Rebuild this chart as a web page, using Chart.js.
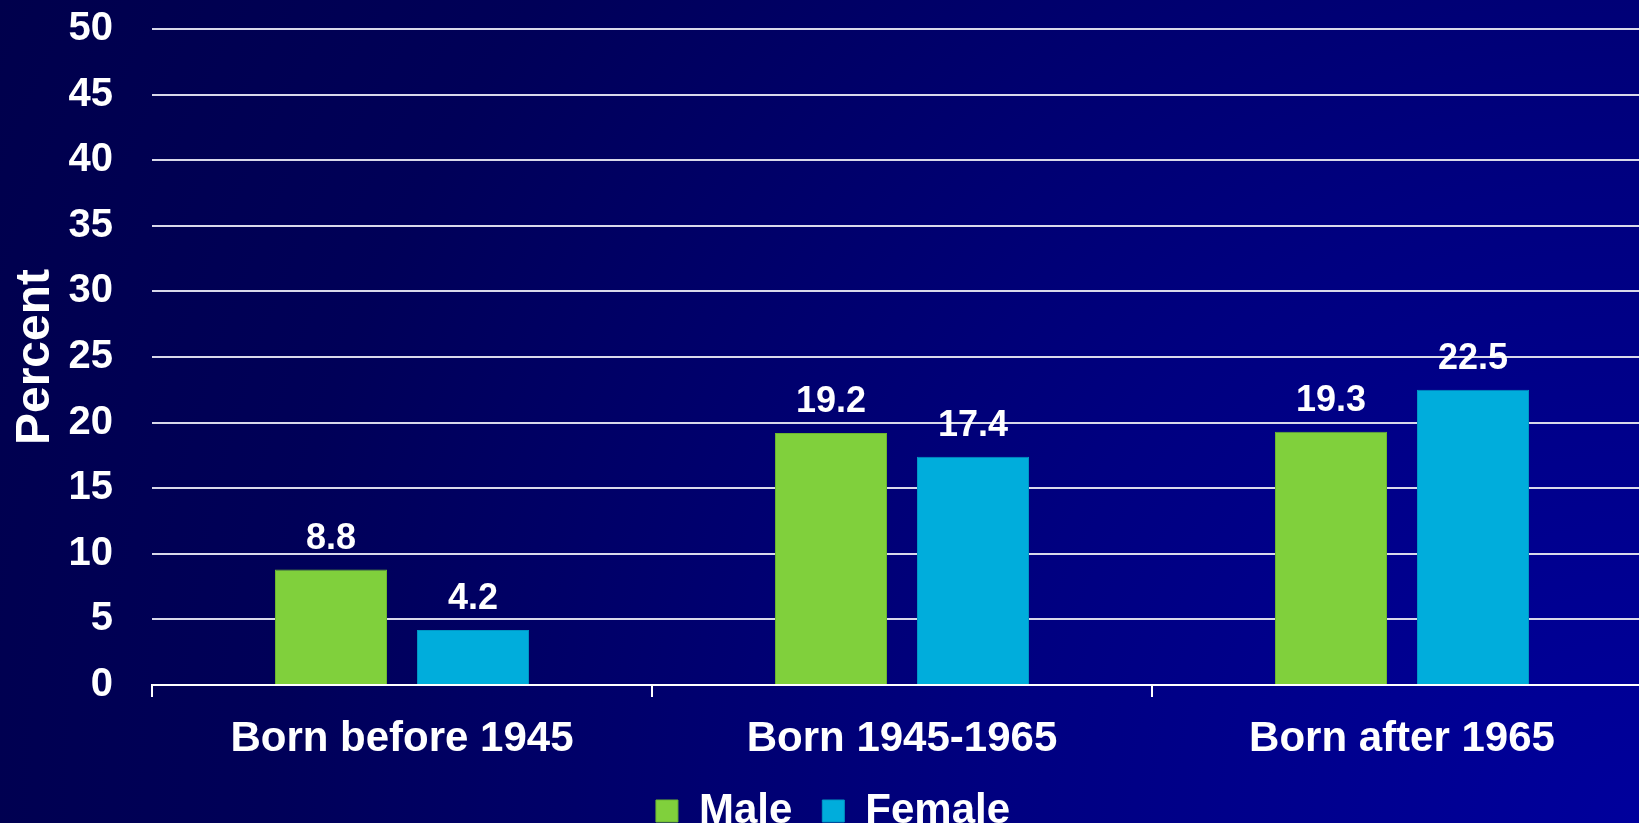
<!DOCTYPE html>
<html>
<head>
<meta charset="utf-8">
<script src="https://cdn.jsdelivr.net/npm/chart.js@4"></script>
<style>
  html, body {
    margin: 0;
    padding: 0;
    width: 1639px;
    height: 823px;
    overflow: hidden;
    background: radial-gradient(circle at 100% 100%, #00009c 0%, #000080 35%, #000058 75%, #00004c 100%);
  }
  #wrap {
    position: absolute;
    left: 0;
    top: 0;
    width: 1660px;
    height: 842px;
  }
</style>
</head>
<body>
<div id="wrap"><canvas id="chart"></canvas></div>
<script>
(function() {
    'use strict';

    // Chart data
    const categories = ['Born before 1945', 'Born 1945-1965', 'Born after 1965'];
    const maleValues = [8.8, 19.2, 19.3];
    const femaleValues = [4.2, 17.4, 22.5];
    const yTicks = [0, 5, 10, 15, 20, 25, 30, 35, 40, 45, 50];

    const FONT = '"Liberation Sans", Arial, sans-serif';

    // Value labels above bars
    const valueLabels = {
        id: 'valueLabels',
        afterDatasetsDraw(chart) {
            const ctx = chart.ctx;
            ctx.save();
            ctx.font = 'bold 36px ' + FONT;
            ctx.fillStyle = '#ffffff';
            ctx.textAlign = 'center';
            ctx.textBaseline = 'alphabetic';
            chart.data.datasets.forEach((ds, i) => {
                chart.getDatasetMeta(i).data.forEach((bar, j) => {
                    ctx.fillText(ds.data[j].toFixed(1), bar.x, bar.y - 21);
                });
            });
            ctx.restore();
        }
    };

    // nudge the legend a little to the right
    const legendShift = {
        id: 'legendShift',
        afterLayout(chart) {
            if (chart.legend) {
                chart.legend.left += 7;
                chart.legend.right += 7;
            }
        }
    };

    new Chart(document.getElementById('chart'), {
        type: 'bar',
        data: {
            labels: categories,
            datasets: [{
                label: 'Male',
                data: maleValues,
                backgroundColor: '#80d03c',
                borderColor: '#6cb530',
                borderWidth: 1,
                categoryPercentage: 0.568,
                barPercentage: 0.789
            }, {
                label: 'Female',
                data: femaleValues,
                backgroundColor: '#00addc',
                borderColor: '#0096c4',
                borderWidth: 1,
                categoryPercentage: 0.568,
                barPercentage: 0.789
            }]
        },
        options: {
            responsive: true,
            maintainAspectRatio: false,
            animation: false,
            layout: { padding: { top: 0, right: 8, left: 0, bottom: 0 } },
            scales: {
                x: {
                    grid: {
                        display: true,
                        drawOnChartArea: false,
                        drawTicks: true,
                        tickLength: 12,
                        color: '#ffffff',
                        lineWidth: 2,
                        offset: true
                    },
                    border: { display: true, color: '#ffffff', width: 2 },
                    ticks: {
                        color: '#ffffff',
                        padding: 17,
                        font: { family: FONT, size: 42, weight: 'bold' }
                    },
                    afterFit(scale) { scale.height = 75; }
                },
                y: {
                    min: 0,
                    max: 50,
                    afterBuildTicks(scale) {
                        scale.ticks = yTicks.map(v => ({ value: v }));
                    },
                    grid: {
                        color: '#d8d8ea',
                        lineWidth: 2,
                        drawTicks: false
                    },
                    border: { display: false },
                    ticks: {
                        color: '#ffffff',
                        padding: 39,
                        font: { family: FONT, size: 40, weight: 'bold' }
                    },
                    title: {
                        display: true,
                        text: 'Percent',
                        color: '#ffffff',
                        padding: { top: 7, bottom: 0 },
                        font: { family: FONT, size: 48, weight: 'bold' }
                    },
                    afterFit(scale) {
                        scale.width = 152;
                        scale.paddingTop = 29;
                        scale.paddingBottom = 0;
                    }
                }
            },
            plugins: {
                legend: {
                    position: 'bottom',
                    labels: {
                        color: '#ffffff',
                        boxWidth: 22,
                        boxHeight: 22,
                        padding: 30,
                        font: { family: FONT, size: 42, weight: 'bold' }
                    }
                },
                tooltip: { enabled: false }
            }
        },
        plugins: [valueLabels, legendShift]
    });
})();
</script>
</body>
</html>
